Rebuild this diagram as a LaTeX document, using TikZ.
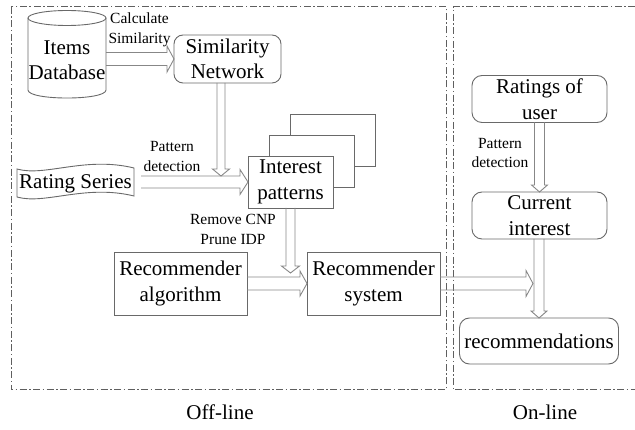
\documentclass[tikz,border=0pt]{standalone}
\usepackage{fontspec}
\setmainfont{Liberation Serif}
\usetikzlibrary{calc}
\definecolor{boxgray}{RGB}{105,105,105}
\definecolor{arrgray}{RGB}{135,135,135}
\definecolor{framegray}{RGB}{95,95,95}
\newcommand\BigTxt{\fontsize{21}{25.5}\selectfont}
\newcommand\SmallTxt{\fontsize{15.5}{19.5}\selectfont}
\tikzset{
  base/.style={inner sep=0pt, outer sep=0pt, align=center, font=\BigTxt},
  sqbox/.style={base, draw=boxgray, line width=0.9pt, fill=white},
  rndbox/.style={sqbox, rounded corners=10pt},
  shapeline/.style={draw=boxgray, line width=0.9pt},
  lbl/.style={inner sep=0pt, outer sep=0pt, align=center, font=\SmallTxt},
  arrowline/.style={draw=arrgray, line width=0.9pt, line join=miter},
  frame/.style={draw=framegray, line width=1pt, dash pattern=on 7pt off 2.5pt on 1.5pt off 2.5pt},
}
% horizontal hollow arrow: start, tip, shaft half width, head half width, head length
\newcommand\HArrow[5]{%
  \draw[arrowline] let \p1=#1, \p2=#2 in
    (\x1,{\y2+#3pt}) -- ({\x2-#5pt},{\y2+#3pt}) -- ({\x2-#5pt},{\y2+#4pt}) -- (\x2,\y2)
    -- ({\x2-#5pt},{\y2-#4pt}) -- ({\x2-#5pt},{\y2-#3pt}) -- (\x1,{\y2-#3pt});}
% vertical (downward) hollow arrow
\newcommand\VArrow[5]{%
  \draw[arrowline] let \p1=#1, \p2=#2 in
    ({\x2-#3pt},\y1) -- ({\x2-#3pt},{\y2+#5pt}) -- ({\x2-#4pt},{\y2+#5pt}) -- (\x2,\y2)
    -- ({\x2+#4pt},{\y2+#5pt}) -- ({\x2+#3pt},{\y2+#5pt}) -- ({\x2+#3pt},\y1);}
\begin{document}
\begin{tikzpicture}[x=1pt,y=-1pt]
\useasboundingbox (0,0) rectangle (635,430);
% frames
\draw[frame] (11,7) rectangle (446,390);
\draw[frame] (635,7) -- (453,7) -- (453,390) -- (635,390);
% items database cylinder
\draw[shapeline] (28,18) -- (28,90) .. controls (28,100.7) and (106,100.7) .. (106,90) -- (106,18);
\draw[shapeline] (67,18) ellipse [x radius=39, y radius=7.5];
\node[base, minimum width=78pt, minimum height=60pt] (db) at (67,60) {Items\\Database};
% similarity network
\node[rndbox, rounded corners=9pt, minimum width=107pt, minimum height=48pt] (sim) at (227.5,59) {Similarity\\Network};
% interest patterns stack
\node[sqbox, minimum width=85pt, minimum height=52pt] (ip3) at (332.5,140) {};
\node[sqbox, minimum width=85pt, minimum height=52pt] (ip2) at (311.5,161) {};
\node[sqbox, minimum width=85pt, minimum height=52pt] (ip) at (290.5,182) {Interest\\patterns};
% rating series (tape)
\draw[shapeline] (17,169) .. controls (45,177) and (85,156) .. (134,168) -- (134,196)
  .. controls (85,184) and (45,205) .. (17,197) -- cycle;
\node[base, minimum width=117pt, minimum height=28pt] (rs) at (75.5,184) {Rating Series};
% recommender boxes
\node[sqbox, minimum width=133pt, minimum height=63pt] (ra) at (180.5,283.5) {Recommender\\algorithm};
\node[sqbox, minimum width=133pt, minimum height=63pt] (rsys) at (373.5,283.5) {Recommender\\system};
% on-line boxes
\node[rndbox, minimum width=135pt, minimum height=47pt] (ru) at (539.5,99) {Ratings of\\user};
\node[rndbox, minimum width=135pt, minimum height=47pt] (ci) at (539.5,215.5) {Current\\interest};
\node[rndbox, minimum width=159pt, minimum height=46pt] (rec) at (539,341) {recommendations};
% free arrow ends
\coordinate (t1) at (221,176);
\coordinate (t2) at (290.5,273);
\coordinate (t3) at (533,283.5);
% arrows
\HArrow{(db.east)}{(sim.west)}{6.5}{13}{7}
\VArrow{(sim.south)}{(t1)}{4}{8.5}{7}
\HArrow{([xshift=7pt]rs.east)}{(ip.west)}{6}{12.5}{8}
\VArrow{(ip.south)}{(t2)}{4.5}{9}{7}
\HArrow{(ra.east)}{(rsys.west)}{6.5}{12.5}{7}
\HArrow{(rsys.east)}{(t3)}{6.5}{13}{7}
\VArrow{(ru.south)}{(ci.north)}{5}{8}{7}
\VArrow{(ci.south)}{(rec.north)}{5}{8}{7}
% labels
\node[lbl] (lcalc) at (139.5,30) {Calculate\\Similarity};
\node[lbl] (lpd1) at (172,156.5) {Pattern\\detection};
\node[lbl] (lrem) at (233,229.5) {Remove CNP\\Prune IDP};
\node[lbl] (lpd2) at (500,153) {Pattern\\detection};
\node[base] (off) at (220,412) {Off-line};
\node[base] (on) at (545,412) {On-line};
\end{tikzpicture}
\end{document}
